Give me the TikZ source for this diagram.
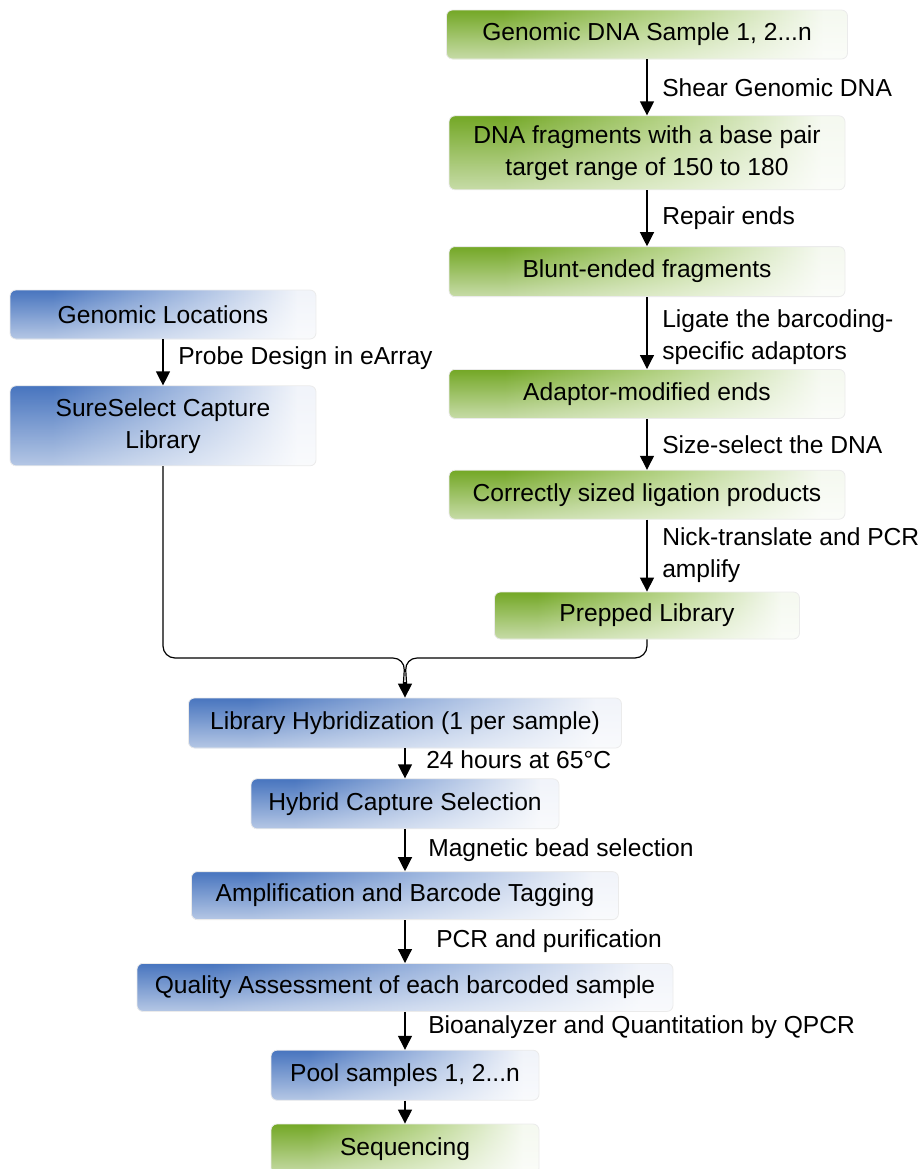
\documentclass[tikz,border=0pt]{standalone}
\usepackage{fontspec}
\setmainfont{Liberation Sans}
\usetikzlibrary{arrows.meta,positioning,calc,fadings}

\definecolor{gdark}{HTML}{74A826}
\definecolor{gmid}{HTML}{B5D386}
\definecolor{gend}{HTML}{F5F9F0}
\definecolor{bdark}{HTML}{4875BF}
\definecolor{bmid}{HTML}{9FB7DF}
\definecolor{bend}{HTML}{F1F4FA}

\pgfdeclarehorizontalshading{greenfade}{100bp}{color(0bp)=(gdark); color(32bp)=(gdark); color(53bp)=(gmid); color(72bp)=(gend); color(100bp)=(gend)}
\pgfdeclarehorizontalshading{bluefade}{100bp}{color(0bp)=(bdark); color(32bp)=(bdark); color(53bp)=(bmid); color(72bp)=(bend); color(100bp)=(bend)}

\begin{document}
\begin{tikzpicture}[
    x=1pt, y=1pt,
    font=\fontsize{12.3pt}{16pt}\selectfont,
    stepbox/.style={draw=black!8, line width=0.4pt, rounded corners=3pt, align=center, inner sep=0pt, minimum width=198pt, minimum height=24.5pt,
        path picture={\fill[white, fill opacity=0.6, path fading=north] (path picture bounding box.south west) rectangle (path picture bounding box.north east);}},
    greenbox/.style={stepbox, shade, shading=greenfade},
    bluebox/.style={stepbox, shade, shading=bluefade},
    line/.style={-{Triangle[length=7pt,width=7pt]}, line width=0.6pt, draw=black},
    joinline/.style={line width=0.6pt, rounded corners=6pt},
    labelstyle/.style={midway, anchor=west, align=left, xshift=4pt}
]
    \useasboundingbox (0,0) rectangle (460.5,-584.5);

    % Sample preparation (right column)
    \node[greenbox, minimum width=200.5pt] (gdna) at (323.5,-17.25) {Genomic DNA Sample 1, 2...n};
    \node[greenbox, minimum height=37pt, below=28pt of gdna] (frag) {DNA fragments with a base pair\\target range of 150 to 180};
    \node[greenbox, minimum height=25pt, below=28pt of frag] (blunt) {Blunt-ended fragments};
    \node[greenbox, below=36pt of blunt] (adaptor) {Adaptor-modified ends};
    \node[greenbox, below=25.5pt of adaptor] (sized) {Correctly sized ligation products};
    \node[greenbox, minimum width=152.5pt, minimum height=23.5pt, below=36pt of sized] (prepped) {Prepped Library};

    % Capture library (left column)
    \node[bluebox, minimum width=153pt] (loc) at (81.5,-157.25) {Genomic Locations};
    \node[bluebox, minimum width=153pt, minimum height=40pt, below=23pt of loc] (sure) {SureSelect Capture\\Library};

    % Hybridization and sequencing (lower column)
    \coordinate (merge) at (202.5,-329);
    \node[bluebox, minimum width=216.5pt, minimum height=25pt] (hyb) at (202.5,-361.5) {Library Hybridization (1 per sample)};
    \node[bluebox, minimum width=154pt, minimum height=25pt, below=15pt of hyb] (capture) {Hybrid Capture Selection};
    \node[bluebox, minimum width=213.5pt, minimum height=24pt, below=21pt of capture] (amp) {Amplification and Barcode Tagging};
    \node[bluebox, minimum width=268pt, minimum height=24pt, below=21.5pt of amp] (qa) {Quality Assessment of each barcoded sample};
    \node[bluebox, minimum width=134pt, minimum height=25pt, below=19pt of qa] (pool) {Pool samples 1, 2...n};
    \node[greenbox, minimum width=134pt, minimum height=25pt, below=11.5pt of pool] (seq) {Sequencing};

    % Connections
    \draw[line] (gdna) -- (frag) node[labelstyle] {Shear Genomic DNA};
    \draw[line] (frag) -- (blunt) node[labelstyle] {Repair ends};
    \draw[line] (blunt) -- (adaptor) node[labelstyle, yshift=-2pt] {Ligate the barcoding-\\specific adaptors};
    \draw[line] (adaptor) -- (sized) node[labelstyle] {Size-select the DNA};
    \draw[line] (sized) -- (prepped) node[labelstyle] {Nick-translate and PCR\\amplify};
    \draw[line] (loc) -- (sure) node[labelstyle, yshift=2pt] {Probe Design in eArray};

    % Two branches joining above the hybridization step
    \draw[joinline] (sure.south) |- (merge) -- ($(hyb.north)+(-0.9,5)$);
    \draw[joinline] (prepped.south) |- (merge) -- ($(hyb.north)+(0.9,5)$);
    \draw[line] ($(hyb.north)+(0,8)$) -- (hyb.north);

    \draw[line] (hyb) -- (capture) node[labelstyle, xshift=3pt, yshift=2pt] {24 hours at 65°C};
    \draw[line] (capture) -- (amp) node[labelstyle, xshift=4pt] {Magnetic bead selection};
    \draw[line] (amp) -- (qa) node[labelstyle, xshift=8pt] {PCR and purification};
    \draw[line] (qa) -- (pool) node[labelstyle, xshift=4pt, yshift=2pt] {Bioanalyzer and Quantitation by QPCR};
    \draw[line] (pool) -- (seq);

\end{tikzpicture}
\end{document}
